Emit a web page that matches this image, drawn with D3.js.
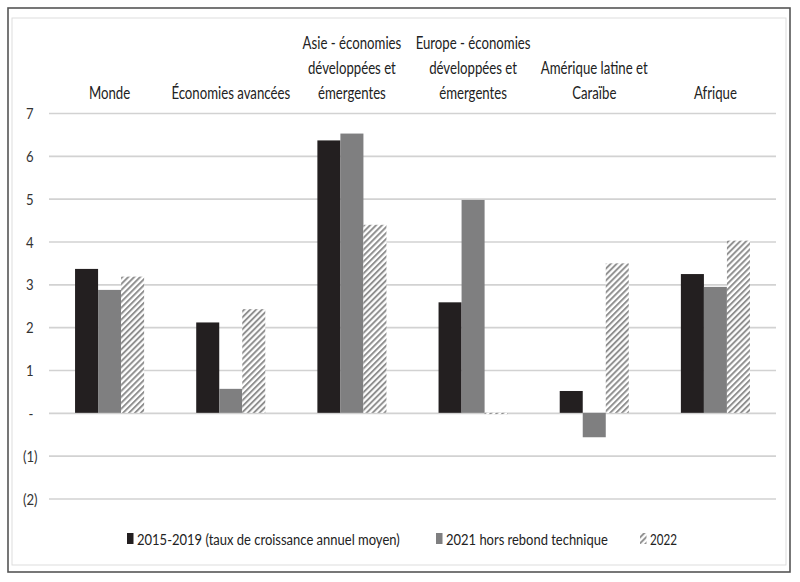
<!DOCTYPE html>
<html><head><meta charset="utf-8">
<script src="https://cdn.jsdelivr.net/npm/d3@7"></script>
<style>body{margin:0;background:#fff}svg{display:block}text{font-family:Lato,"Open Sans",sans-serif}</style>
</head><body>
<script>
const categories = ["Monde","Économies avancées","Asie - économies développées et émergentes","Europe - économies développées et émergentes","Amérique latine et Caraïbe","Afrique"];
const categoryLines = [["Monde"],["Économies avancées"],["Asie - économies","développées et","émergentes"],["Europe - économies","développées et","émergentes"],["Amérique latine et","Caraïbe"],["Afrique"]];
const seriesNames = ["2015-2019 (taux de croissance annuel moyen)","2021 hors rebond technique","2022"];
const s2015 = [3.36, 2.11, 6.36, 2.58, 0.51, 3.24];
const s2021 = [2.87, 0.56, 6.52, 4.97, -0.57, 2.94];
const s2022 = [3.18, 2.42, 4.39, -0.03, 3.49, 4.02];
const yTicks = [-2,-1,0,1,2,3,4,5,6,7];

const W=800,H=582;
const svg=d3.select("body").append("svg").attr("width",W).attr("height",H);
const defs=svg.append("defs");
const pat=defs.append("pattern").attr("id","hatch").attr("patternUnits","userSpaceOnUse")
  .attr("width",4.2).attr("height",4.2).attr("patternTransform","rotate(45)");
pat.append("rect").attr("width",4.2).attr("height",4.2).attr("fill","#fff");
pat.append("line").attr("x1",1).attr("y1",0).attr("x2",1).attr("y2",4.2).attr("stroke","#8c8c8c").attr("stroke-width",1.9);

// frame
svg.append("rect").attr("x",8).attr("y",8).attr("width",782).attr("height",564).attr("fill","none").attr("stroke","#555").attr("stroke-width",1.6);
svg.append("rect").attr("x",12).attr("y",18).attr("width",774).attr("height",547).attr("fill","none").attr("stroke","#ddd").attr("stroke-width",1);

const left=49,right=776;
const x0=d3.scaleBand().domain(categories).range([left,right]).paddingInner(0.43).paddingOuter(0.215);
const x1=d3.scaleBand().domain(seriesNames).range([0,x0.bandwidth()]);
const y=d3.scaleLinear().domain([-2,7]).range([498.5,113]);

const ax=svg.append("g").attr("transform",`translate(${right},0)`)
  .call(d3.axisLeft(y).tickValues(yTicks).tickSize(right-left).tickPadding(0)
    .tickFormat(d=>d<0?`(${-d})`:d===0?"-":`${d}`));
ax.select(".domain").remove();
ax.selectAll(".tick line").attr("stroke","#d2d2d2").attr("stroke-width",1.6);
ax.selectAll(".tick text").attr("font-size",16).attr("fill","#333").attr("text-anchor","end")
  .attr("x",0).attr("dy","0.35em")
  .attr("transform",d=>`translate(${d<0?-(right-37.5):-(right-33.5)},0) scale(0.82,1)`);

const series=[s2015,s2021,s2022];
const fills=["#231f20","#7f7f80","url(#hatch)"];
const g=svg.append("g");
series.forEach((vals,si)=>{
  g.selectAll(null).data(vals).enter().append("rect")
    .attr("x",(v,i)=>x0(categories[i])+x1(seriesNames[si]))
    .attr("width",x1.bandwidth())
    .attr("y",v=>y(Math.max(0,v)))
    .attr("height",v=>Math.abs(y(v)-y(0)))
    .attr("fill",fills[si]);
});

// category labels
const lab=svg.append("g");
categoryLines.forEach((lines,i)=>{
  const cx=x0(categories[i])+x0.bandwidth()/2;
  lines.forEach((t,j)=>{
    lab.append("text").attr("text-anchor","middle").attr("font-size",16.5).attr("fill","#222")
      .attr("transform",`translate(${cx},${99-(lines.length-1-j)*25}) scale(0.8,1)`).text(t);
  });
});

// legend
const legend=[{x:127,tx:137,tl:263},{x:436,tx:446,tl:162},{x:640,tx:650,tl:27}];
const lg=svg.append("g");
legend.forEach((L,i)=>{
  lg.append("rect").attr("x",L.x).attr("y",533).attr("width",6.5).attr("height",11).attr("fill",fills[i]);
  const t=lg.append("text").attr("font-size",16).attr("fill","#222").text(seriesNames[i]);
  const w=t.node().getComputedTextLength();
  t.attr("transform",`translate(${L.tx},544.5) scale(${L.tl/w},1)`);
});
</script>
</body></html>
